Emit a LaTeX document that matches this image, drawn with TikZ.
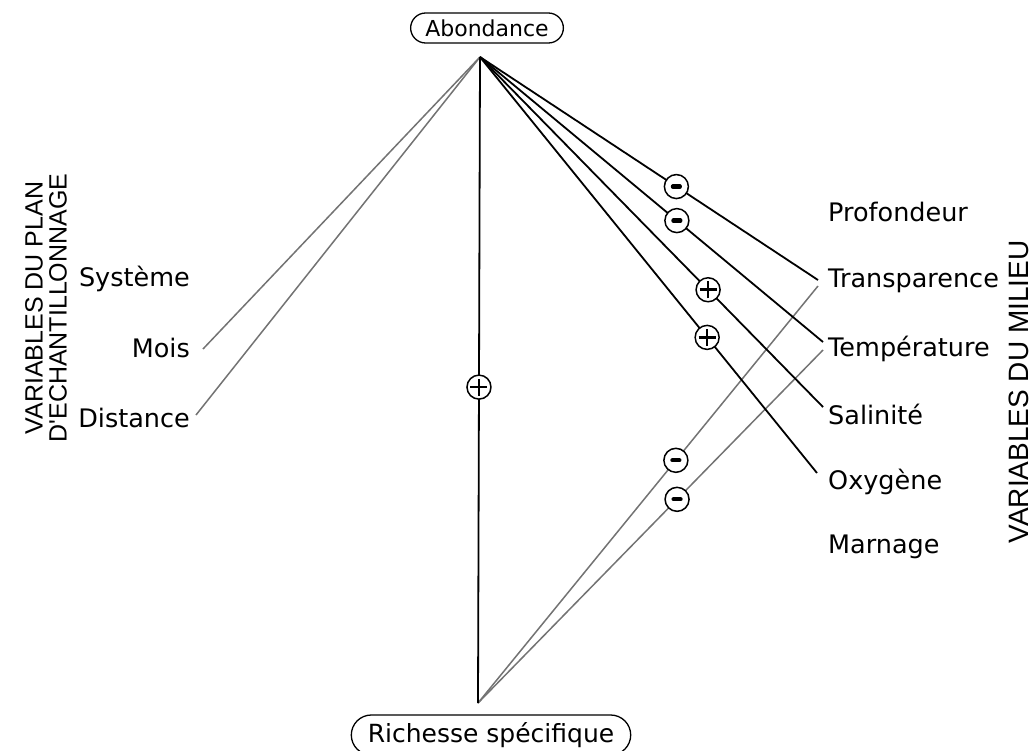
\documentclass[tikz,border=0pt]{standalone}
\usepackage{fontspec}
\setmainfont{DejaVu Sans}
\newfontfamily\capsfont{Liberation Sans}
\usetikzlibrary{shapes.misc}
\begin{document}
\begin{tikzpicture}[x=1pt,y=-1pt,
  lbl/.style={font=\fontsize{25.5}{28}\selectfont, inner sep=0pt},
  boxlbl/.style={draw, rounded rectangle, line width=1.3pt, inner xsep=12pt},
  blk/.style={line width=1.8pt, black},
  gry/.style={line width=1.5pt, black!55},
  sgn/.style={circle, draw, line width=1.5pt, fill=white, minimum size=24pt, inner sep=0pt},
  symb/.style={line width=2.6pt, black},
  ]
\useasboundingbox (0,0) rectangle (1033,750);

% top and bottom boxes
\node[boxlbl, font=\fontsize{22}{26}\selectfont, minimum height=30pt, minimum width=150pt] (abo) at (487,28) {Abondance};
\node[boxlbl, font=\fontsize{25}{28}\selectfont, minimum height=40pt] (ric) at (491,735) {Richesse spécifique};
\coordinate (apA) at (480,57);
\coordinate (apR) at (478,703);

% left labels
\node[lbl, anchor=east] (sys) at (190,279) {Système};
\node[lbl, anchor=east] (mois) at (190,348) {Mois};
\node[lbl, anchor=east] (dist) at (190,418) {Distance};
\coordinate (eMo) at (203,349);
\coordinate (eDi) at (196,415);

% right labels
\node[lbl, anchor=west] (prof) at (828,212) {Profondeur};
\node[lbl, anchor=west] (trans) at (828,281) {Transparence};
\node[lbl, anchor=west] (temp) at (828,349) {Température};
\node[lbl, anchor=west] (sal) at (828,414) {Salinité};
\node[lbl, anchor=west] (oxy) at (828,482) {Oxygène};
\node[lbl, anchor=west] (marn) at (828,547) {Marnage};
\coordinate (eTrA) at (818,280);
\coordinate (eTrR) at (818,286);
\coordinate (eTeA) at (823,342);
\coordinate (eTeR) at (823,350);
\coordinate (eSa) at (823,407);
\coordinate (eOx) at (817,473);

% rotated titles
\node[font=\capsfont\fontsize{25}{24}\selectfont, rotate=90, align=center, inner sep=0pt] (vpl) at (46,308) {VARIABLES DU PLAN\\D'ECHANTILLONNAGE};
\node[font=\capsfont\fontsize{28}{30}\selectfont, rotate=90, inner sep=0pt] (vmi) at (1019,392) {VARIABLES DU MILIEU};

% grey connectors
\draw[gry] (eMo) -- (apA);
\draw[gry] (eDi) -- (apA);
\draw[gry] (apR) -- (eTrR);
\draw[gry] (apR) -- (eTeR);

% black connectors
\draw[blk] (apA) -- (apR);
\draw[blk] (apA) -- (eTrA);
\draw[blk] (apA) -- (eTeA);
\draw[blk] (apA) -- (eSa);
\draw[blk] (apA) -- (eOx);

% signs
\path (apA) -- node[sgn, pos=0.511] (s1) {} (apR);
\path (apA) -- node[sgn, pos=0.581] (s2) {} (eTrA);
\path (apA) -- node[sgn, pos=0.574] (s3) {} (eTeA);
\path (apA) -- node[sgn, pos=0.665] (s4) {} (eSa);
\path (apA) -- node[sgn, pos=0.674] (s5) {} (eOx);
\path (apR) -- node[sgn, pos=0.582] (s6) {} (eTrR);
\path (apR) -- node[sgn, pos=0.577] (s7) {} (eTeR);

% plus symbols
\foreach \s in {s1,s4,s5}{
  \draw[symb] ([xshift=-8.5pt]\s.center) -- ([xshift=8.5pt]\s.center);
  \draw[symb] ([yshift=-8.5pt]\s.center) -- ([yshift=8.5pt]\s.center);
}
% minus symbols
\foreach \s in {s2,s3,s6,s7}{
  \draw[line width=4.2pt, line cap=round, black] ([xshift=-3.5pt]\s.center) -- ([xshift=3.5pt]\s.center);
}
\end{tikzpicture}
\end{document}
